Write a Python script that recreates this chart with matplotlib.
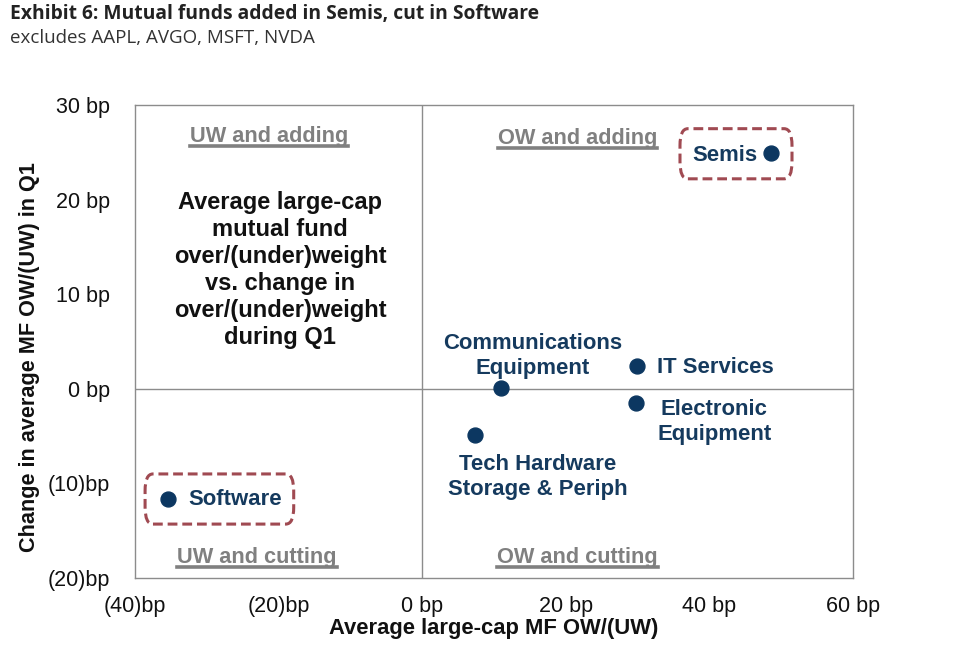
import matplotlib
matplotlib.use("Agg")
import matplotlib.pyplot as plt
from matplotlib.patches import FancyBboxPatch
from matplotlib.lines import Line2D
from matplotlib.ticker import FuncFormatter, MultipleLocator

# data: (avg OW/(UW), change in Q1) in bp
sectors = ["Semis", "Software", "Communications\nEquipment", "IT Services",
           "Electronic\nEquipment", "Tech Hardware\nStorage & Periph"]
ow_uw = [48.6, -35.4, 11.0, 29.9, 29.8, 7.4]
change_q1 = [24.9, -11.6, 0.1, 2.4, -1.5, -4.9]

# label offsets in pixels and alignment
label_style = {
    "Semis": dict(xytext=(-14, -2), ha="right", va="center"),
    "Software": dict(xytext=(20, -1), ha="left", va="center"),
    "Communications\nEquipment": dict(xytext=(31, 9), ha="center", va="bottom"),
    "IT Services": dict(xytext=(20, -1), ha="left", va="center"),
    "Electronic\nEquipment": dict(xytext=(78, 4), ha="center", va="top"),
    "Tech Hardware\nStorage & Periph": dict(xytext=(62, -19), ha="center", va="top"),
}
highlighted = {"Semis": (-12.7, 2.9), "Software": (-3.2, 17.5)}

navy = "#0c3761"
label_col = "#153a5e"
box_col = "#a04a52"
grey = "#808080"
font = ["Liberation Sans", "DejaVu Sans"]

fig = plt.figure(figsize=(9.59, 6.54), dpi=100)
ax = fig.add_axes([0.1408, 0.1162, 0.7487, 0.7232])
ax.set_xlim(-40, 60)
ax.set_ylim(-20, 30)

for s in ax.spines.values():
    s.set_color("#8c8c8c")
    s.set_linewidth(1.0)
ax.axhline(0, color="#8c8c8c", lw=1.0, zorder=1)
ax.axvline(0, color="#8c8c8c", lw=1.0, zorder=1)


def bp(v, pos):
    if v < 0:
        return f"({abs(v):.0f})bp"
    return f"{v:.0f} bp"


ax.xaxis.set_major_locator(MultipleLocator(20))
ax.yaxis.set_major_locator(MultipleLocator(10))
ax.xaxis.set_major_formatter(FuncFormatter(bp))
ax.yaxis.set_major_formatter(FuncFormatter(bp))
ax.tick_params(length=0, labelsize=15.5, colors="#111111")
for t in ax.get_xticklabels() + ax.get_yticklabels():
    t.set_family(font)
ax.tick_params(axis="x", pad=13)
ax.tick_params(axis="y", pad=18)

ax.scatter(ow_uw, change_q1, s=115, color=navy, zorder=3)

for name, x, y in zip(sectors, ow_uw, change_q1):
    st = label_style[name]
    ax.annotate(name, (x, y), textcoords="offset pixels", xytext=st["xytext"],
                ha=st["ha"], va=st["va"], multialignment="center",
                fontsize=15.9, fontweight="bold", color=label_col, family=font,
                linespacing=1.23)
    if name in highlighted:
        x0, x1 = highlighted[name]
        box = FancyBboxPatch((x + x0, y - 2.7), x1 - x0, 5.3,
                             boxstyle="round,pad=0,rounding_size=1.1",
                             mutation_aspect=1.6,
                             fill=False, ec=box_col, lw=2.2, ls=(0, (3.2, 1.6)),
                             zorder=2)
        ax.add_patch(box)

# quadrant labels
quad = [("UW and adding", 0.187, 0.934), ("OW and adding", 0.616, 0.930),
        ("UW and cutting", 0.170, 0.044), ("OW and cutting", 0.616, 0.044)]
quad_texts = []
for txt, qx, qy in quad:
    t = ax.text(qx, qy, txt, transform=ax.transAxes, ha="center", va="center",
                fontsize=15.7, fontweight="bold", color=grey, family=font)
    quad_texts.append(t)

ax.text(0.202, 0.651, "Average large-cap\nmutual fund\nover/(under)weight\nvs. change in\n"
        "over/(under)weight\nduring Q1", transform=ax.transAxes, ha="center",
        va="center", fontsize=17, fontweight="bold", color="#111111", family=font,
        linespacing=1.23)

ax.set_xlabel("Average large-cap MF OW/(UW)", fontsize=15.8, fontweight="bold",
              family=font, labelpad=1, color="#111111")
ax.set_ylabel("Change in average MF OW/(UW) in Q1", fontsize=15.6, fontweight="bold",
              family=font, color="#111111")
ax.yaxis.set_label_coords(-0.132, 0.467)

fig.text(0.0105, 0.979, "Exhibit 6: Mutual funds added in Semis, cut in Software",
         fontsize=13.85, fontweight="bold", family=["Open Sans", "DejaVu Sans"],
         color="#222222", va="center")
fig.text(0.0105, 0.942, "excludes AAPL, AVGO, MSFT, NVDA", fontsize=13.5,
         family=["Open Sans", "DejaVu Sans"], color="#333333", va="center")

# underline quadrant labels
fig.canvas.draw()
inv = fig.transFigure.inverted()
for t in quad_texts:
    bb = t.get_window_extent()
    (fx0, fy0), (fx1, _) = inv.transform([(bb.x0, bb.y0 + 1), (bb.x1, bb.y0)])
    fig.add_artist(Line2D([fx0, fx1], [fy0, fy0], color=grey, lw=2.6))

fig.savefig("out.png", dpi=100, facecolor="white")
